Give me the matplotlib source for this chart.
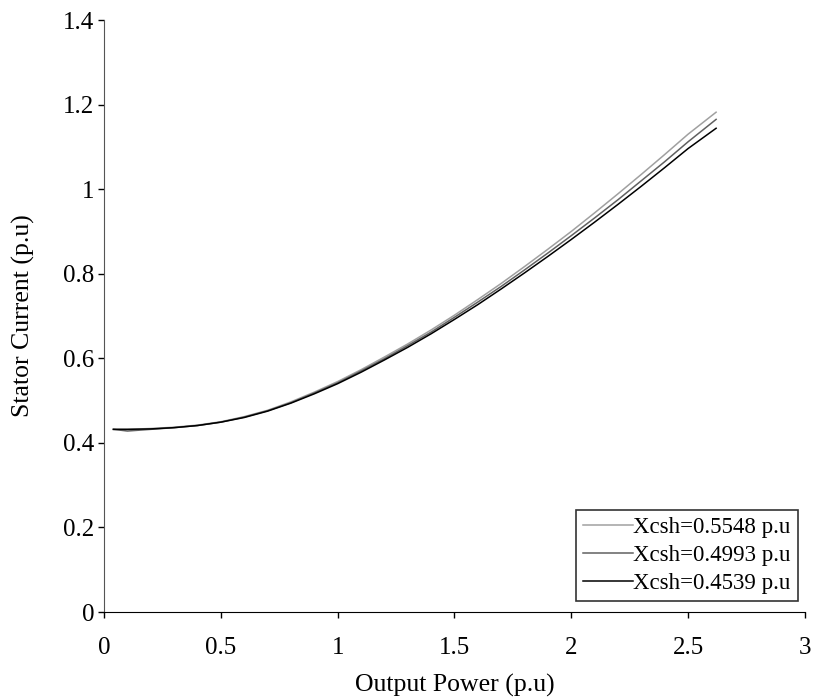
import matplotlib
matplotlib.use("Agg")
import matplotlib.pyplot as plt

plt.rcParams['font.family'] = ['Liberation Serif', 'DejaVu Serif']

# Output power (p.u)
power = [0.04, 0.1, 0.2, 0.3, 0.4, 0.5, 0.6, 0.7, 0.8, 0.9, 1.0, 1.1, 1.2, 1.3,
         1.4, 1.5, 1.6, 1.7, 1.8, 1.9, 2.0, 2.1, 2.2, 2.3, 2.4, 2.5, 2.62]

# Stator current (p.u) for each shunt capacitive reactance
current_05548 = [0.432, 0.432, 0.434, 0.437, 0.442, 0.450, 0.462, 0.477, 0.497, 0.520,
                 0.545, 0.573, 0.603, 0.634, 0.667, 0.702, 0.739, 0.777, 0.817, 0.858,
                 0.900, 0.944, 0.989, 1.035, 1.082, 1.130, 1.182]
current_04993 = [0.432, 0.428, 0.432, 0.436, 0.441, 0.449, 0.461, 0.476, 0.495, 0.518,
                 0.542, 0.570, 0.599, 0.630, 0.662, 0.697, 0.733, 0.770, 0.809, 0.849,
                 0.890, 0.932, 0.975, 1.020, 1.065, 1.112, 1.165]
current_04539 = [0.432, 0.432, 0.433, 0.436, 0.441, 0.449, 0.460, 0.475, 0.494, 0.516,
                 0.540, 0.567, 0.596, 0.626, 0.658, 0.692, 0.727, 0.764, 0.802, 0.841,
                 0.881, 0.922, 0.964, 1.007, 1.051, 1.096, 1.144]

series_labels = ['Xcsh=0.5548 p.u', 'Xcsh=0.4993 p.u', 'Xcsh=0.4539 p.u']
series_colors = ['#a0a0a0', '#606060', '#000000']

x_ticks = [0, 0.5, 1, 1.5, 2, 2.5, 3]
x_tick_labels = ['0', '0.5', '1', '1.5', '2', '2.5', '3']
y_ticks = [0, 0.2, 0.4, 0.6, 0.8, 1.0, 1.2, 1.4]
y_tick_labels = ['0', '0.2', '0.4', '0.6', '0.8', '1', '1.2', '1.4']

fig = plt.figure(figsize=(8.13, 7.0), dpi=100)
ax = fig.add_axes([0.128, 0.1257, 0.862, 0.8457])

for ys, lab, col in zip([current_05548, current_04993, current_04539],
                        series_labels, series_colors):
    ax.plot(power, ys, color=col, lw=1.1, label=lab)

ax.set_xlim(0, 3)
ax.set_ylim(0, 1.4)
ax.set_xticks(x_ticks)
ax.set_xticklabels(x_tick_labels)
ax.set_yticks(y_ticks)
ax.set_yticklabels(y_tick_labels)

for side in ('top', 'right'):
    ax.spines[side].set_visible(False)
ax.spines['left'].set_color('#555555')
ax.spines['bottom'].set_color('#000000')
ax.tick_params(direction='out', length=4, width=1, labelsize=18)
ax.tick_params(axis='x', pad=14)
ax.tick_params(axis='y', pad=3)

ax.set_xlabel('Output Power (p.u)', fontsize=18.5, labelpad=11)
ax.set_ylabel('Stator Current (p.u)', fontsize=18.5, labelpad=20)

leg = ax.legend(loc='lower right', bbox_to_anchor=(0.99, 0.0186), borderaxespad=0,
                fontsize=16.5, frameon=True, fancybox=False, handlelength=2.2,
                handletextpad=0.0, labelspacing=0.3, borderpad=0.3)
leg.get_frame().set_edgecolor('black')
leg.get_frame().set_linewidth(1.2)

fig.savefig('out.png', dpi=100)
